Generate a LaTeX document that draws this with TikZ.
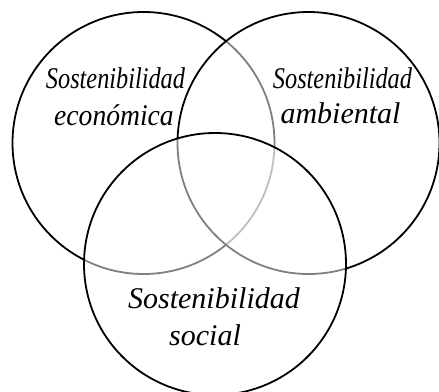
\documentclass[tikz,border=0pt]{standalone}
\usepackage{fontspec}
\usepackage{graphicx}
\setmainfont{Liberation Serif}
\begin{document}
\begin{tikzpicture}[x=1pt,y=1pt,
  area/.style={circle, draw=black, line width=1.8pt, fill=white, fill opacity=0.5,
               draw opacity=1, minimum size=262pt, inner sep=0pt},
  caption/.style={anchor=base, inner sep=0pt, text=black,
                  font=\fontsize{30}{36}\selectfont\itshape}]
  \useasboundingbox (0,0) rectangle (439,-391);
  % the three overlapping areas, drawn in order so later ones fade earlier outlines
  \node[area] (eco) at (143.5,-143) {};
  \node[area] (amb) at (308.5,-143) {};
  \node[area] (soc) at (215,-264) {};
  % labels
  \node[caption] (eco1) at (115.5,-88) {\scalebox{0.81}[1]{Sostenibilidad}};
  \node[caption] (eco2) at (114,-125) {\scalebox{0.92}[1]{económica}};
  \node[caption] (amb1) at (342.5,-88) {\scalebox{0.81}[1]{Sostenibilidad}};
  \node[caption] (amb2) at (340.5,-123) {ambiental};
  \node[caption] (soc1) at (214,-308) {Sostenibilidad};
  \node[caption] (soc2) at (205,-345) {social};
\end{tikzpicture}
\end{document}
